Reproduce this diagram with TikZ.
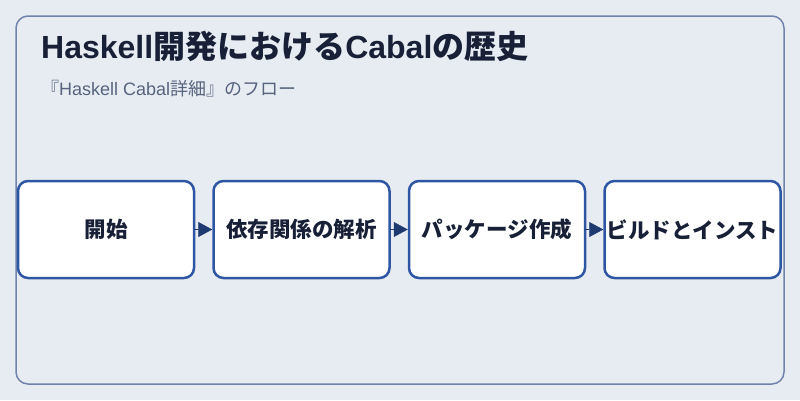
\documentclass[tikz,border=0pt]{standalone}
\usepackage{fontspec}
\setmainfont{Liberation Sans}
\newfontfamily\cjk{Noto Sans CJK JP}
\usetikzlibrary{arrows.meta,positioning}
\definecolor{bgcol}{HTML}{E7ECF2}
\definecolor{framecol}{HTML}{6F83AC}
\definecolor{boxcol}{HTML}{2F56A3}
\definecolor{textcol}{HTML}{172036}
\definecolor{subcol}{HTML}{56647E}
\definecolor{arrowcol}{HTML}{1F3A70}
\tikzset{
  procbox/.style={draw=boxcol, line width=2.5pt, fill=white, rounded corners=10pt,
    minimum width=176pt, minimum height=97pt, inner sep=0pt,
    font=\cjk\fontsize{21.5}{25}\selectfont\bfseries, text=textcol},
  flowarrow/.style={draw=arrowcol, line width=0.5pt, shorten <=-1pt, -{Triangle[length=14pt,width=15pt]}}
}
\begin{document}
\begin{tikzpicture}[x=1pt,y=-1pt]
            \fill [bgcol] (0,0) rectangle (800,400);
            \draw [framecol, line width=1.5pt, rounded corners=12pt] (16,16) rectangle (784,384);
            \node [anchor=base west, inner sep=0pt, text=textcol, font=\fontsize{32}{36}\selectfont\bfseries] (title) at (41,58) {Haskell{\cjk 開発における}Cabal{\cjk の歴史}};
            \node [anchor=base west, inner sep=0pt, text=subcol, font=\fontsize{18}{21}\selectfont] (subtitle) at (41,95) {{\cjk 『}Haskell Cabal{\cjk 詳細』のフロー}};
            \node [procbox] (start) at (106,229.5) {開始};
            \node [procbox, right=17pt of start] (deps) {依存関係の解析};
            \node [procbox, right=17pt of deps] (pkg) {パッケージ作成};
            \node [procbox, right=17pt of pkg] (build) {ビルドとインスト};
            \draw [flowarrow] (start) -- (deps);
            \draw [flowarrow] (deps) -- (pkg);
            \draw [flowarrow] (pkg) -- (build);
\end{tikzpicture}
\end{document}
